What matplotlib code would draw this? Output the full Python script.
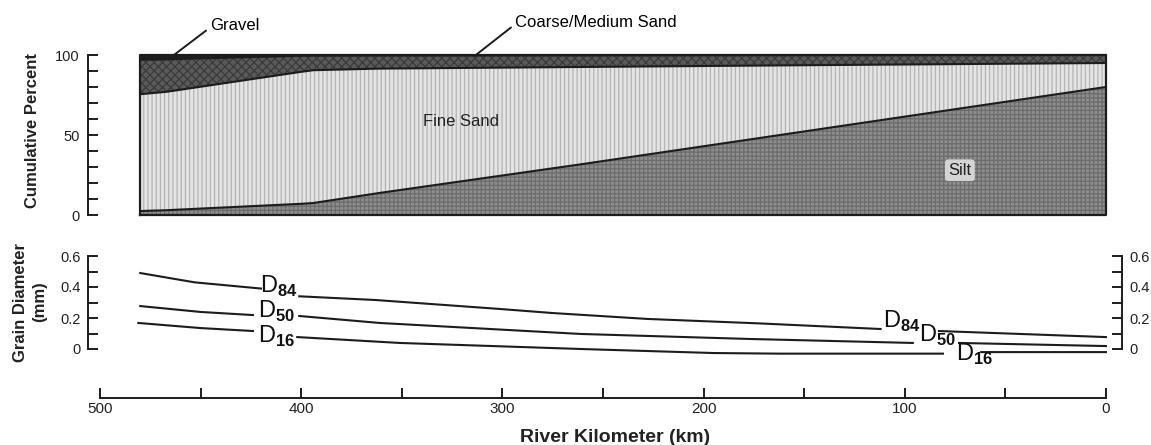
import numpy as np
import matplotlib
matplotlib.use("Agg")
import matplotlib.pyplot as plt

plt.rcParams["font.family"] = ["Liberation Sans", "DejaVu Sans"]
plt.rcParams["mathtext.fontset"] = "custom"
plt.rcParams["mathtext.rm"] = "Liberation Sans"
plt.rcParams["mathtext.bf"] = "Liberation Sans:bold"
plt.rcParams["hatch.linewidth"] = 0.9

nan = np.nan

# upper panel: cumulative percent at the top of each layer
layer_km = [480, 467, 400, 394, 361, 262, 162, 0]
silt_top = [2.5, 3.0, 7.0, 7.5, 13.8, 31.5, 50.0, 80.0]
fine_top = [75.5, 77.0, 89.5, 90.5, 91.5, 92.5, 93.5, 95.0]
coarse_top = [97.0, 97.3, 99.5, 99.6, 99.7, 99.8, 99.9, 100.0]
gravel_top = [100, 100, 100, 100, 100, 100, 100, 100]

# lower panel: grain diameters (mm), nan = gap for label
d84_km = [480, 453, 420, nan, 401, 363, 301, 275, 228, 172, 112, nan, 83, 0]
d84 = [0.49, 0.43, 0.39, nan, 0.34, 0.316, 0.258, 0.232, 0.194, 0.165, 0.129, nan, 0.116, 0.077]
d50_km = [480, 450, 424, nan, 401, 361, 261, 178, 96, nan, 73, 0]
d50 = [0.277, 0.239, 0.219, nan, 0.213, 0.168, 0.097, 0.065, 0.039, nan, 0.039, 0.019]
d16_km = [481, 450, 424, nan, 402, 351, 261, 195, 162, 81, nan, 62, 0]
d16 = [0.168, 0.135, 0.116, nan, 0.077, 0.039, 0.0, -0.026, -0.03, -0.03, nan, -0.02, -0.02]

km_ticks = [500, 400, 300, 200, 100, 0]
pct_ticks = [0, 50, 100]
mm_ticks = [0, 0.2, 0.4, 0.6]
mm_labels = ["0", "0.2", "0.4", "0.6"]

W, H = 1151, 445
fig = plt.figure(figsize=(W / 100, H / 100), dpi=100)


def px(l, t, r, b):
    return [l / W, 1 - b / H, (r - l) / W, (b - t) / H]


ink = "#1c1c1c"
XL = (506, -8)

# ---- top panel
ax1 = fig.add_axes(px(88, 51.8, 1122, 218.2))
ax1.set_xlim(*XL)
ax1.set_ylim(-2, 102)
ax1.patch.set_alpha(0)
zero = np.zeros(len(layer_km))
ax1.fill_between(layer_km, zero, silt_top, facecolor="#8e8e8e", edgecolor="#6c6c6c",
                 hatch="++++", lw=0)
ax1.fill_between(layer_km, silt_top, fine_top, facecolor="#e4e4e4", edgecolor="#b4b4b4",
                 hatch="||||", lw=0)
ax1.fill_between(layer_km, fine_top, coarse_top, facecolor="#5a5a5a", edgecolor="#3a3a3a",
                 hatch="xxxx", lw=0)
ax1.fill_between(layer_km, coarse_top, gravel_top, facecolor="#1e1e1e", lw=0)
for top in (silt_top, fine_top, coarse_top):
    ax1.plot(layer_km, top, color=ink, lw=1.5)
k0, k1 = layer_km[0], layer_km[-1]
ax1.plot([k0, k1, k1, k0, k0], [0, 0, 100, 100, 0], color=ink, lw=1.6)

for s in ("top", "right", "bottom"):
    ax1.spines[s].set_visible(False)
ax1.spines["left"].set_bounds(0, 100)
ax1.spines["left"].set_linewidth(1.4)
ax1.spines["left"].set_color(ink)
ax1.set_xticks([])
ax1.set_yticks(pct_ticks)
ax1.set_yticks(np.arange(0, 101, 10), minor=True)
ax1.tick_params(axis="y", which="both", direction="in", length=7, width=1.4,
                color=ink, labelsize=10.5, pad=6, labelcolor="#222")

ax1.annotate("Gravel", xy=(463.8, 99.5), xytext=(445.4, 118.5), ha="left", va="center",
             fontsize=12, annotation_clip=False,
             arrowprops=dict(arrowstyle="-", lw=1.4, color=ink, relpos=(0, 0.35),
                             shrinkA=1, shrinkB=0))
ax1.annotate("Coarse/Medium Sand", xy=(313.7, 99.5), xytext=(293.8, 120.5), ha="left",
             va="center", fontsize=12, annotation_clip=False,
             arrowprops=dict(arrowstyle="-", lw=1.4, color=ink, relpos=(0, 0.35),
                             shrinkA=1, shrinkB=0))
ax1.text(320.6, 58.5, "Fine Sand", ha="center", va="center", fontsize=12, color="#222")
ax1.text(72.6, 28, "Silt", ha="center", va="center", fontsize=12, color="#222",
         bbox=dict(boxstyle="round,pad=0.2", fc="#d4d4d4", ec="none"))

# ---- middle panel
ax2 = fig.add_axes(px(88, 252.9, 1122, 364.5))
ax2.set_xlim(*XL)
ax2.set_ylim(-0.1, 0.62)
ax2.patch.set_alpha(0)
for xs, ys in ((d84_km, d84), (d50_km, d50), (d16_km, d16)):
    ax2.plot(xs, ys, color=ink, lw=1.5)

lab = dict(ha="left", va="baseline", fontsize=17, color="#111")
ax2.text(420.5, 0.361, r"D$_{\mathbf{84}}$", **lab)
ax2.text(421.5, 0.200, r"D$_{\mathbf{50}}$", **lab)
ax2.text(421.5, 0.039, r"D$_{\mathbf{16}}$", **lab)
ax2.text(110.9, 0.135, r"D$_{\mathbf{84}}$", **lab)
ax2.text(93.0, 0.045, r"D$_{\mathbf{50}}$", **lab)
ax2.text(74.6, -0.077, r"D$_{\mathbf{16}}$", **lab)

for s in ("top", "right", "bottom"):
    ax2.spines[s].set_visible(False)
ax2.spines["left"].set_bounds(0, 0.6)
ax2.spines["left"].set_linewidth(1.4)
ax2.spines["left"].set_color(ink)
ax2.set_xticks([])
ax2.set_yticks(mm_ticks)
ax2.set_yticklabels(mm_labels)
ax2.set_yticks(np.arange(0, 0.61, 0.1), minor=True)
ax2.tick_params(axis="y", which="both", direction="in", length=7, width=1.4,
                color=ink, labelsize=10.5, pad=5, labelcolor="#222")

ax2r = ax2.twinx()
ax2r.set_ylim(-0.1, 0.62)
for s in ("top", "left", "bottom"):
    ax2r.spines[s].set_visible(False)
ax2r.spines["right"].set_bounds(0, 0.6)
ax2r.spines["right"].set_linewidth(1.4)
ax2r.spines["right"].set_color(ink)
ax2r.set_yticks(mm_ticks)
ax2r.set_yticklabels(mm_labels)
ax2r.set_yticks(np.arange(0, 0.61, 0.1), minor=True)
ax2r.tick_params(axis="y", which="both", direction="in", length=7, width=1.4,
                 color=ink, labelsize=10.5, pad=5, labelcolor="#222")

# ---- km axis
ax3 = fig.add_axes(px(88, 380, 1122, 398))
ax3.set_xlim(*XL)
ax3.patch.set_alpha(0)
for s in ("top", "left", "right"):
    ax3.spines[s].set_visible(False)
ax3.spines["bottom"].set_bounds(km_ticks[0], km_ticks[-1])
ax3.spines["bottom"].set_linewidth(1.4)
ax3.spines["bottom"].set_color(ink)
ax3.set_yticks([])
ax3.set_xticks(km_ticks)
ax3.set_xticks(np.arange(0, 501, 50), minor=True)
ax3.tick_params(axis="x", which="both", direction="in", length=7, width=1.4,
                color=ink, labelsize=11, pad=3, labelcolor="#222")

fig.text(33 / W, 1 - 130 / H, "Cumulative Percent", rotation=90, ha="center", va="center",
         fontsize=12, fontweight="bold", color="#222")
fig.text(30 / W, 1 - 302 / H, "Grain Diameter\n(mm)", rotation=90, ha="center",
         va="center", fontsize=12, fontweight="bold", color="#222", linespacing=1.3,
         multialignment="center")
fig.text(615 / W, 1 - 437 / H, "River Kilometer (km)", ha="center", va="center",
         fontsize=14, fontweight="bold", color="#222")

fig.savefig("out.png", dpi=100)
